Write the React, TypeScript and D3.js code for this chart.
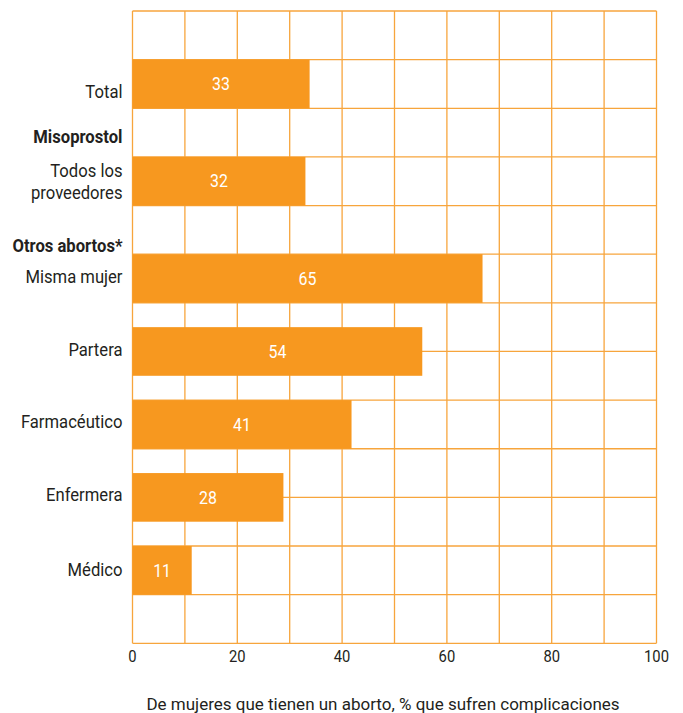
import React, { useEffect, useRef } from 'react';
import * as d3 from 'd3';

// categories, bar lengths as drawn, and printed value labels
const categories = ['Total', 'Todos los proveedores', 'Misma mujer', 'Partera', 'Farmacéutico', 'Enfermera', 'Médico'];
const barValues = [33.8, 33.0, 66.8, 55.3, 41.8, 28.8, 11.3];
const valueLabels = ['33', '32', '65', '54', '41', '28', '11'];
const xTicks = [0, 20, 40, 60, 80, 100];
const axisTitle = 'De mujeres que tienen un aborto, % que sufren complicaciones';

// layout: which grid row each bar starts at, and where its label sits (row units)
const barRows = [1, 3, 5, 6.5, 8, 9.5, 11];
const categoryLabels = [
  { lines: ['Total'], row: 1.795, bold: false },
  { lines: ['Misoprostol'], row: 2.72, bold: true },
  { lines: ['Todos los', 'proveedores'], row: 3.407, bold: false },
  { lines: ['Otros abortos*'], row: 4.955, bold: true },
  { lines: ['Misma mujer'], row: 5.586, bold: false },
  { lines: ['Partera'], row: 7.093, bold: false },
  { lines: ['Farmacéutico'], row: 8.573, bold: false },
  { lines: ['Enfermera'], row: 10.07, bold: false },
  { lines: ['Médico'], row: 11.61, bold: false },
];
const rowCount = 13;

const FONT = 'Roboto, "Liberation Sans", sans-serif';
const GRID = '#F7A53C';
const BAR = '#F7981F';
const TEXT = '#231F20';

const App: React.FC = () => {
  const svgRef = useRef<SVGSVGElement | null>(null);

  useEffect(() => {
    const width = 683;
    const height = 713;
    const plot = { left: 132.5, right: 656.5, top: 11, bottom: 643.3 };

    const x = d3.scaleLinear().domain([0, 100]).range([plot.left, plot.right]);
    const y = d3.scaleLinear().domain([0, rowCount]).range([plot.top, plot.bottom]);
    const rowH = y(1) - y(0);

    const svg = d3.select(svgRef.current)
      .attr('width', width)
      .attr('height', height);
    svg.selectAll('*').remove();

    // text squeezed horizontally for a condensed face
    const label = (
      g: d3.Selection<SVGGElement, unknown, null, undefined>,
      tx: number, ty: number, str: string, size: number, squeeze: number,
      anchor: string, fill: string, weight = 400,
    ) => g.append('text')
      .attr('transform', `translate(${tx},${ty}) scale(${squeeze},1)`)
      .attr('text-anchor', anchor)
      .attr('font-family', FONT)
      .attr('font-size', size)
      .attr('font-weight', weight)
      .attr('fill', fill)
      .text(str);

    // grid
    const grid = svg.append('g');
    grid.selectAll('line.v')
      .data(d3.range(0, 101, 10))
      .join('line')
      .attr('class', 'v')
      .attr('x1', d => x(d)).attr('x2', d => x(d))
      .attr('y1', plot.top).attr('y2', plot.bottom)
      .attr('stroke', GRID)
      .attr('stroke-width', 1.3);
    grid.selectAll('line.h')
      .data(d3.range(0, rowCount + 1))
      .join('line')
      .attr('class', 'h')
      .attr('x1', plot.left).attr('x2', plot.right)
      .attr('y1', d => y(d)).attr('y2', d => y(d))
      .attr('stroke', GRID)
      .attr('stroke-width', 1.3);

    // bars
    svg.append('g')
      .selectAll('rect')
      .data(categories)
      .join('rect')
      .attr('x', x(0))
      .attr('y', (_, i) => y(barRows[i]))
      .attr('width', (_, i) => x(barValues[i]) - x(0))
      .attr('height', rowH)
      .attr('fill', BAR);

    // value labels
    const vals = svg.append('g');
    categories.forEach((_, i) => {
      label(vals, (x(0) + x(barValues[i])) / 2, y(barRows[i]) + rowH / 2 + 6.2,
        valueLabels[i], 18.5, 0.86, 'middle', '#FFFFFF');
    });

    // category labels
    const lineGap = 22.3;
    const cats = svg.append('g');
    categoryLabels.forEach(l => {
      l.lines.forEach((line, j) => {
        label(cats, 122.5, y(l.row) + j * lineGap, line, 18.5, 0.9, 'end', TEXT, l.bold ? 700 : 400);
      });
    });

    // x axis tick labels
    const ticks = svg.append('g');
    xTicks.forEach(t => label(ticks, x(t), 662, String(t), 17.2, 0.86, 'middle', TEXT));

    // axis title
    label(svg.append('g'), 383, 710, axisTitle, 17, 1, 'middle', TEXT);
  }, []);

  return (
    <svg ref={svgRef} style={{ position: 'absolute', left: 0, top: 0, display: 'block' }}></svg>
  );
};

export default App;
